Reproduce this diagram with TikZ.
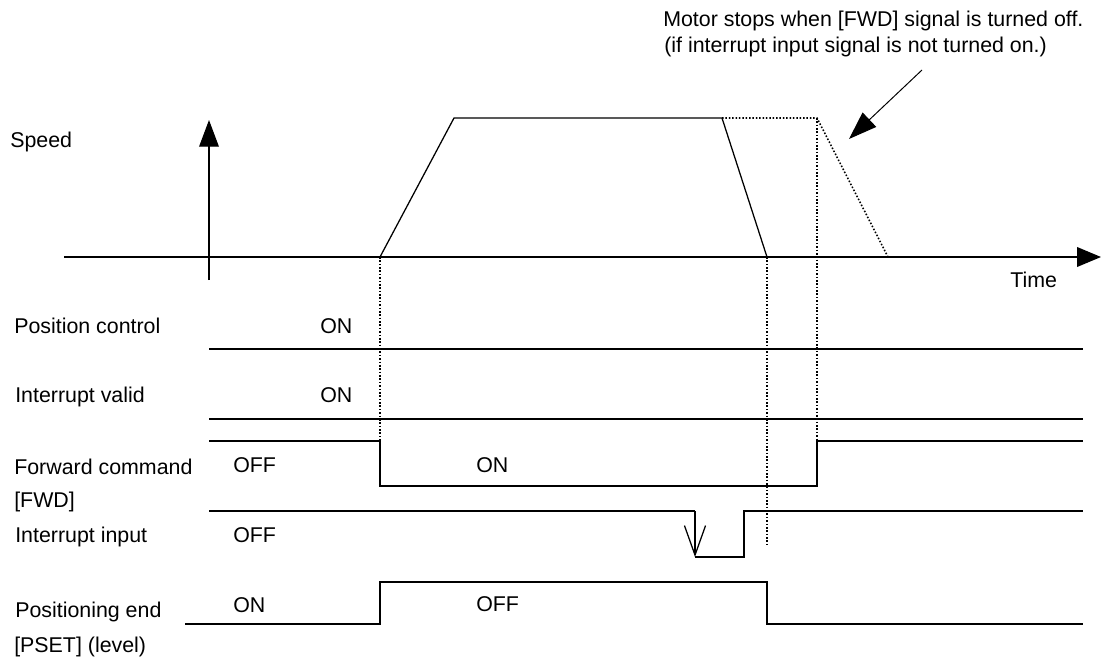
\documentclass[tikz,border=0pt]{standalone}
\usepackage{fontspec}
\setmainfont{Liberation Sans}
\usetikzlibrary{positioning, calc, arrows.meta}

\begin{document}
\begin{tikzpicture}[x=0.025cm, y=-0.025cm,
    sig/.style={line width=0.9pt},
    guide/.style={line width=1.1pt, dash pattern=on 1.1pt off 1.3pt},
    lbl/.style={anchor=base west, inner sep=0pt, font=\fontsize{15.2pt}{18pt}\selectfont}]
    \useasboundingbox (0,0) rectangle (1101,657);

    % axes
    \draw[sig, -{Triangle[length=19pt, width=14pt]}] (209,280) -- (209,120);
    \draw[sig, -{Triangle[length=17pt, width=14pt]}] (64,257) -- (1101,257);
    \node[lbl] (speed) at (10,148) {Speed};
    \node[lbl] (time) at (1010,287) {Time};

    % speed profile
    \coordinate (S0) at (380,257);
    \coordinate (S1) at (454,118);
    \coordinate (S2) at (722,118);
    \coordinate (S3) at (767,257);
    \coordinate (S4) at (817,118);
    \coordinate (S5) at (888,257);
    \draw[sig] (S0) -- (S1) -- (S2) -- (S3);
    \draw[guide] (S2) -- (S4) -- (S5);

    % guide lines
    \draw[guide] (S0) -- (380,441);
    \draw[guide] (S3) -- (767,547);
    \draw[guide] (S4) -- (817,441);

    % note
    \node[lbl] (note1) at (663,27) {Motor stops when [FWD] signal is turned off.};
    \node[lbl] (note2) at (664,53) {(if interrupt input signal is not turned on.)};
    \draw[line width=0.7pt, -{Triangle[length=20pt, width=14pt]}] (922,70) -- (849,139);

    % position control
    \draw[sig] (209,349) -- (1083,349);
    \node[lbl] (pc) at (14,333) {Position control};
    \node[lbl] (pcon) at (320,333) {ON};

    % interrupt valid
    \draw[sig] (209,419) -- (1083,419);
    \node[lbl] (iv) at (15,402) {Interrupt valid};
    \node[lbl] (ivon) at (320,402) {ON};

    % forward command
    \draw[sig] (209,441) -- (380,441) -- (380,486) -- (817,486) -- (817,441) -- (1083,441);
    \node[lbl] (fwd1) at (14,474) {Forward command};
    \node[lbl] (fwd2) at (14,507) {[FWD]};
    \node[lbl] (fwdoff) at (233,472) {OFF};
    \node[lbl] (fwdon) at (476,472) {ON};

    % interrupt input
    \draw[sig] (209,511) -- (695,511);
    \draw[sig, -{Straight Barb[length=21pt, width=15pt]}] (695,511) -- (695,557);
    \draw[sig] (695,557) -- (744,557) -- (744,511) -- (1083,511);
    \node[lbl] (ii) at (15,542) {Interrupt input};
    \node[lbl] (iioff) at (233,542) {OFF};

    % positioning end
    \draw[sig] (185,624) -- (380,624) -- (380,582) -- (767,582) -- (767,624) -- (1083,624);
    \node[lbl] (pe1) at (15,617) {Positioning end};
    \node[lbl] (pe2) at (14,652) {[PSET] (level)};
    \node[lbl] (peon) at (233,612) {ON};
    \node[lbl] (peoff) at (476,611) {OFF};
\end{tikzpicture}
\end{document}
